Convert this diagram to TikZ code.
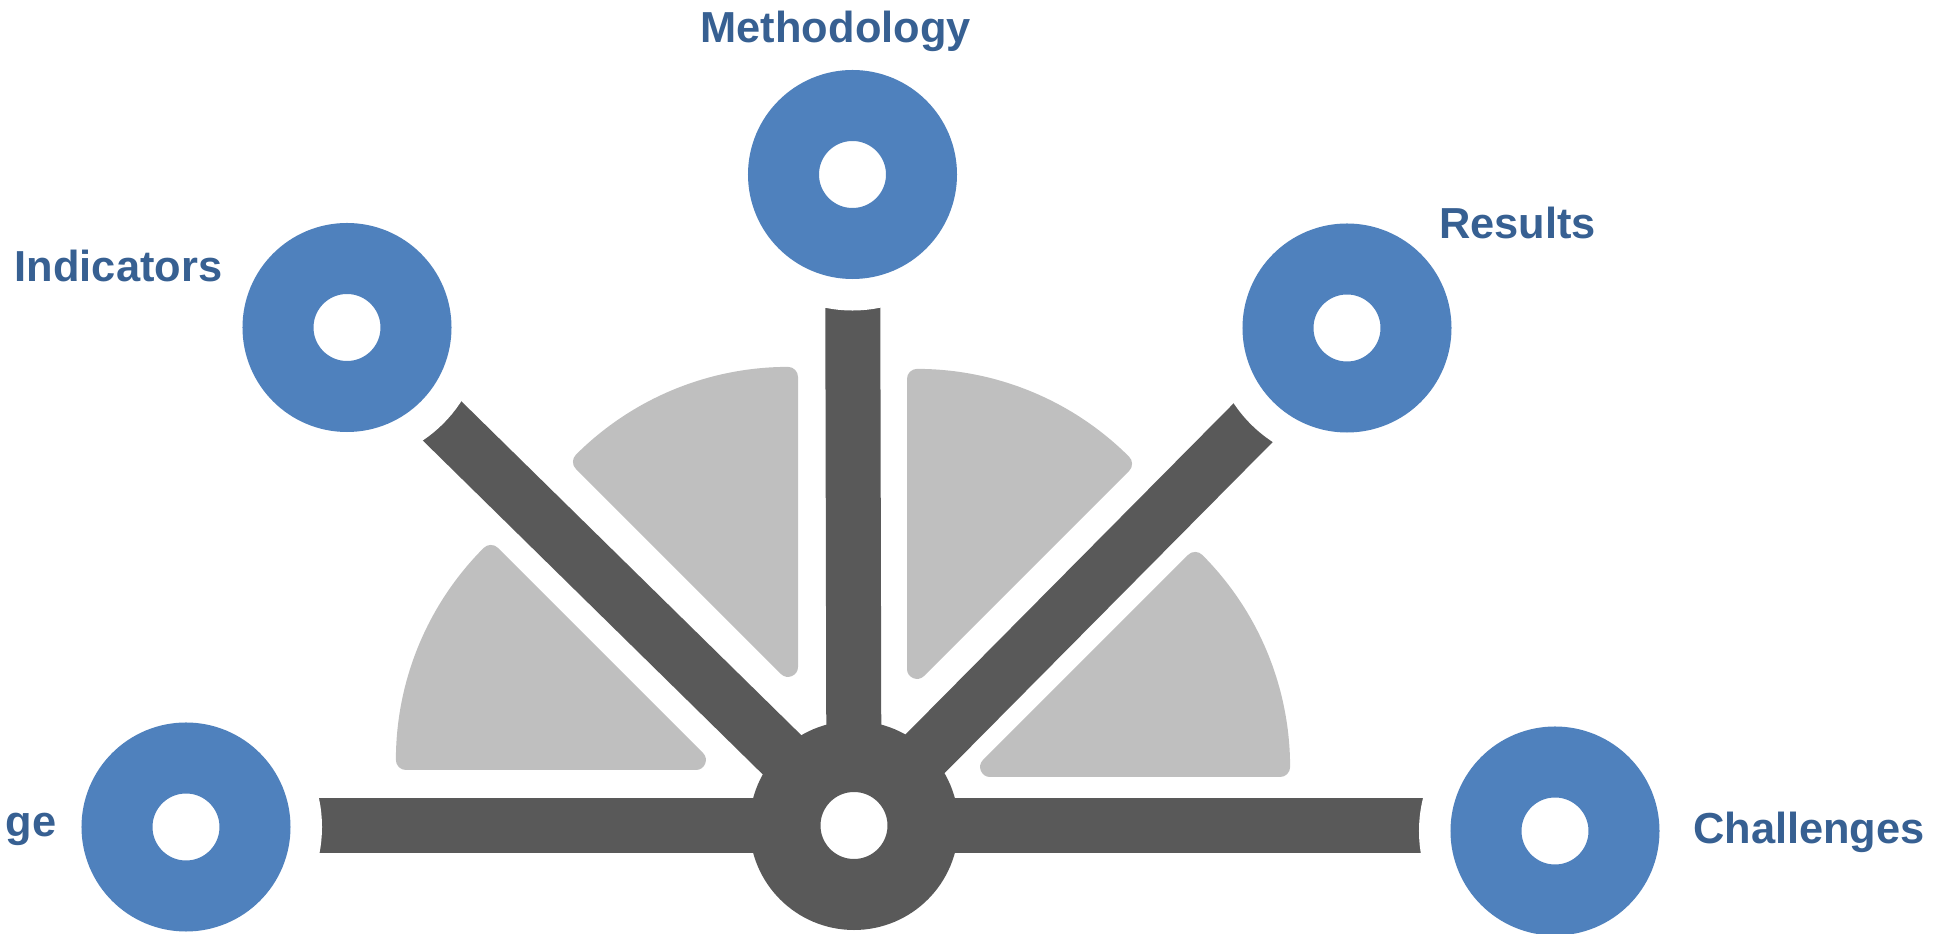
\documentclass[tikz,border=0pt]{standalone}
\usepackage{fontspec}
\setmainfont{Liberation Sans}[BoldFont={Liberation Sans Bold}]
\usetikzlibrary{backgrounds}
\definecolor{ringblue}{HTML}{4F81BD}
\definecolor{labelblue}{HTML}{376092}
\definecolor{spokegray}{HTML}{595959}
\definecolor{sectorgray}{HTML}{BFBFBF}
\tikzset{
    ring/.style = {
        circle,
        minimum size=13.8mm,
        inner sep=0pt,
        outer sep=0pt,
        fill=white,
        draw=ringblue,
        line width=7.1mm,
        preaction={draw=white, fill=white, line width=13.4mm},
        },
    hub/.style = {
        circle,
        minimum size=13.8mm,
        inner sep=0pt,
        outer sep=0pt,
        fill=white,
        draw=spokegray,
        line width=7.1mm,
        },
    spoke/.style = {
        draw=spokegray,
        line width=5.5mm,
        },
    sector/.style = {
        fill=sectorgray,
        draw=sectorgray,
        line width=2mm,
        line join=round,
        },
    ring label/.style = {
        text=labelblue,
        font=\bfseries\fontsize{12.35}{15}\selectfont,
        inner sep=0pt,
        },
}

\begin{document}
\begin{tikzpicture}[x=0.1mm, y=0.1mm]
    \useasboundingbox (0,0) rectangle (1957,934);

    \node[hub] (hub) at (854,108.5) {};
    \node[ring] (meth) at (852.5,759.5) {};
    \node[ring] (ind) at (347,606.5) {};
    \node[ring] (res) at (1347,606) {};
    \node[ring] (lft) at (186,107) {};
    \node[ring] (chal) at (1555,103) {};

    \begin{scope}[on background layer]
        % quarter wedges between the spokes
        \filldraw[sector] (695.9,174) -- ++(180:290) arc[start angle=180, end angle=135, radius=290] -- cycle;
        \filldraw[sector] (788,267.1) -- ++(135:290) arc[start angle=135, end angle=90, radius=290] -- cycle;
        \filldraw[sector] (917,265.1) -- ++(90:290) arc[start angle=90, end angle=45, radius=290] -- cycle;
        \filldraw[sector] (990.1,167) -- ++(45:290) arc[start angle=45, end angle=0, radius=290] -- cycle;

        \path[spoke] (hub) -- (meth);
        \path[spoke] (hub) -- (ind);
        \path[spoke] (hub) -- (res);
        \path[spoke] (hub) -- (hub -| lft);
        \path[spoke] (hub) -- (hub -| chal);
    \end{scope}

    \node[ring label, anchor=base west] (methlabel) at (700,891) {Methodology};
    \node[ring label, anchor=base west] (indlabel) at (14,652) {Indicators};
    \node[ring label, anchor=base west] (reslabel) at (1438.5,695) {Results};
    \node[ring label, anchor=base west] (challabel) at (1692.5,90) {Challenges};
    \node[ring label, anchor=base east] (lftlabel) at (57,97) {ge};
\end{tikzpicture}
\end{document}
